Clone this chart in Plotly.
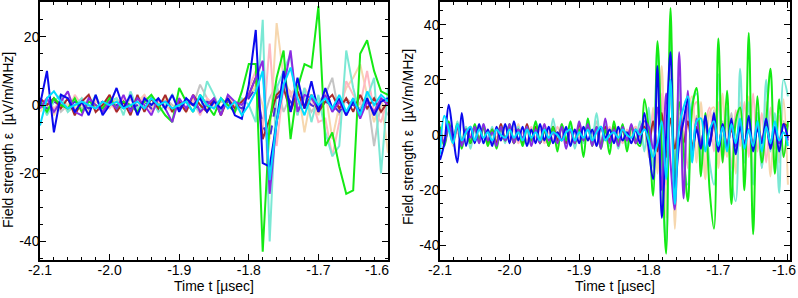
import numpy as np
import plotly.graph_objects as go

# ---------------- data ----------------
# Left panel: time samples every 0.01 usec
t_left = [round(-2.10 + 0.01 * i, 4) for i in range(51)]
# Right panel: time samples every 0.00625 usec
t_right = [round(-2.10 + 0.00625 * j, 5) for j in range(81)]

L_green = [1, -2, 2, 0, -1, 2, -2, 1, 0, -1,
           2, -1, 1, 0, -2, 1, 3, 0, -3, -5,
           5, 1, -2, 3, 0, -3, 2, 0, -2, 4,
           12, 12, -43, -5, 8, 16, -10, 5, 12, 11,
           29, -12, -8, -18, -26, -25, 15, 19, 10, 4, 3]
L_blue = [0, 10, -8, 3, 2, -2, 1, -3, 3, -3,
          0, 5, -1, 3, -3, 2, 0, 2, -1, 3,
          -2, 2, 0, 2, -2, 1, -1, 2, -3, -4,
          6, 22, -17, -18, -5, 10, -2, 8, -1, 7,
          -2, 5, -1, 2, -3, 1, -2, 2, -3, 1, 2]
L_purple = [-1, 2, -2, 1, 4, -2, -3, 2, 0, -2,
            1, -1, 3, -2, 2, 0, -3, 2, -1, -5,
            2, -1, 3, -2, 0, 2, -3, 3, 1, 0,
            3, 8, 13, -26, -5, 5, 16, -2, 3, 2,
            -1, 3, -2, 1, -3, 2, -4, 1, -2, 2, 0]
L_brown = [2, 0, 2, -1, 2, -3, 1, 3, -2, 0,
           3, -2, 1, -3, 3, -2, 2, -1, 3, -2,
           1, -2, 3, 0, -2, 2, -3, 2, -1, 1,
           3, 8, -10, -4, 3, 5, -2, 4, -1, 3,
           -2, 1, 3, -1, 2, -2, 3, -1, 2, -2, 1]
L_cyan = [-6, 2, 4, 1, -1, 0, 1, 0, -1, 1,
          0, 1, -1, 0, 1, -1, 2, 0, 1, -1,
          0, 1, -2, 3, 0, -1, 2, -1, 1, -3,
          0, 4, 10, -22, -5, 6, 11, 2, -3, 3,
          0, 2, -1, 3, -2, 2, -3, 4, 0, 3, 1]
L_aqua = [2, -3, 1, 3, -2, 0, 2, -1, 3, -2,
          1, 2, -3, 4, -1, 1, 2, -2, 0, 3,
          -1, 2, 0, -2, 7, 3, -2, 1, -1, 2,
          0, -5, 25, -40, 5, 10, 15, -3, 5, -5,
          3, -8, -15, -12, 16, 5, -3, 2, 8, -20, 5]
L_pink = [0, 2, -1, 1, -2, 3, 0, -1, 2, -1,
          1, -2, 2, 0, -1, 3, -2, 1, 0, -2,
          2, -1, 1, -3, 2, 0, -1, 2, 0, -2,
          5, 10, -8, 18, -12, 6, 4, -3, 5, 2,
          -5, -4, -15, -5, 7, 3, 0, 10, -2, -5, 2]
L_wheat = [-2, 1, -3, 2, 0, -1, 2, -2, 1, 0,
           -1, 2, 0, -2, 1, 3, -1, 0, 2, -1,
           1, -2, 2, 0, -1, 1, -2, 3, 0, 1,
           2, 6, 0, -10, 24, 8, 3, 6, -8, 3,
           -3, 4, -10, 0, 5, 8, 12, 3, -5, 2, -14]
L_gray = [1, -1, 2, -2, 0, 1, -1, 2, 0, -2,
          1, 0, -1, 2, -2, 1, 0, -1, 2, 0,
          -1, 1, 0, 6, 2, -1, 1, 0, -2, 1,
          3, 5, -5, 2, 6, -2, 3, 0, 2, -2,
          1, 3, 8, -3, 2, 0, -1, 3, -12, 1, -3]
L_dash = [0, -1, 1, 0, -1, 1, 0, -1, 0, 1,
          -1, 0, 1, -1, 0, 1, -1, 0, 1, 0,
          -1, 1, 0, -1, 1, 0, -1, 1, 0, -1,
          2, 5, -6, -10, 2, 4, 1, -2, 2, 0,
          -1, 1, 0, -2, 1, 0, -1, 1, -2, 0, 1]

R_blue = [-9, -3, 11, 0, -10, 8, -4, 3, -3, 4,
          -3, 2, -4, 3, -2, 4, -3, 5, -2, 3,
          -4, 2, -3, 4, -2, 3, -3, 1, -2, 3,
          -4, 2, -3, 3, -2, 2, -4, 3, -1, 2,
          -3, 3, -2, 1, -3, 2, -3, 8, -5, -16,
          25, -30, 0, 30, -19, -3, 5, 13, -6, 2,
          -5, 7, -4, 8, -6, 4, -5, 6, -7, 3,
          -4, 7, -6, 2, -3, 6, -5, 3, -6, 4, -1]
R_green = [3, -4, 5, -2, 4, -5, 2, -3, 4, -2,
           3, -4, 2, -5, 3, -2, 4, -3, 2, -4,
           3, -2, 5, -3, 2, -4, 3, -6, 4, -2,
           5, -3, 2, -8, 6, -4, 3, -5, 2, -7,
           5, -3, 4, -6, 3, -2, -4, 13, 2, -22,
           34, -5, -43, 46, -20, 12, -5, -24, 10, 17,
           -15, 8, -20, -34, 35, -10, 16, -25, 5, 10,
           -20, 37, -36, 14, -10, 5, 24, -14, 13, -8, 5]
R_purple = [2, -3, 4, -2, 3, -4, 2, -1, 3, -3,
            4, -2, 1, -4, 3, -2, 4, -3, 2, -1,
            3, -4, 2, -3, 4, -2, 1, -3, 3, -5,
            2, -3, 5, -2, 4, -4, 3, -5, 6, -3,
            2, -4, 3, -2, 4, -3, 2, 5, 3, -5,
            10, -20, 15, -10, -27, 30, -23, 16, -8, 6,
            -4, 5, -3, 6, -6, 4, -5, 3, -4, 5,
            -3, 2, -5, 4, -2, 3, -5, 2, -3, 4, -2]
R_cyan = [-7, 7, 2, -3, 4, -2, 1, 3, -2, 2,
          -1, 1, -2, 2, 0, -1, 2, -1, 1, -2,
          2, -1, 1, -2, 2, -1, 1, 0, -2, 1,
          2, -2, 1, -1, 2, -2, 1, 3, -2, 0,
          1, -1, 2, 0, -1, 2, 0, 2, -2, -8,
          -3, 5, -16, 20, -25, 3, 10, 14, -10, 5,
          6, -6, 2, 5, -4, 3, -6, 4, -3, 6,
          -5, 2, -4, 5, -6, 3, -3, 5, -2, 1, -4]
R_aqua = [3, -4, 2, -3, 5, -2, 3, -5, 2, -3,
          4, -2, 3, -4, 2, -3, 4, -2, 3, -4,
          2, -3, 5, -2, 3, -4, 6, -2, 3, -3,
          4, -5, 2, -3, 6, -2, 8, -3, 4, -4,
          3, -5, 2, -4, 3, -2, 5, -6, 10, -12,
          32, -10, -40, 38, -15, 20, -10, -18, 12, 15,
          -12, 6, -10, -18, 22, -8, 10, -15, -24, 24,
          -10, 12, -18, 8, -12, 20, -6, 8, -21, 20, 14]
R_pink = [2, -1, 3, -2, 1, -3, 2, 0, -2, 3,
          -1, 2, -3, 1, -2, 3, -1, 2, -3, 1,
          -2, 3, -1, 2, -3, 1, -2, 3, -1, 2,
          -3, 2, -1, 3, -2, 1, -4, 2, -1, 3,
          -2, 1, -3, 2, -1, 3, -2, 4, -6, 8,
          -10, 15, -18, 20, -15, 10, 3, -12, 8, 12,
          -8, 4, 10, -6, 12, -10, 6, -12, 9, -4,
          12, -8, 15, -6, 8, -10, 10, -5, 7, -8, 4]
R_wheat = [4, -2, 3, -4, 2, -1, 3, -3, 2, -2,
           3, -4, 2, -1, 3, -2, 1, -3, 4, -2,
           1, -3, 2, -2, 4, -1, 2, -4, 3, -2,
           2, -3, 4, -1, 3, -4, 2, -2, 3, -3,
           2, -2, 3, -4, 1, 3, -3, 6, -8, 10,
           -14, 25, -30, 40, -34, 20, -18, 8, 14, -10,
           12, -16, 8, 10, -12, 15, -8, 6, -14, 12,
           -6, 14, -16, 8, -4, 12, -15, 6, -10, 13, -18]
R_gray = [1, -2, 3, -1, 2, -3, 1, -2, 3, -1,
          2, -3, 1, -2, 4, -1, 2, -3, 1, -2,
          3, -1, 2, -3, 1, -2, 3, -1, 4, -2,
          1, -3, 2, -2, 3, -1, 5, -2, 1, -3,
          2, -1, 3, -2, 1, -3, 2, 4, -3, 6,
          -8, 12, -10, 15, -12, 8, -6, 10, -5, 7,
          -8, 6, -4, 9, -10, 5, -3, 8, -6, 4,
          -10, 6, -3, 8, -12, 5, -4, 7, -9, 5, -3]
R_brown = [2, -3, 3, -2, 3, -3, 2, -3, 3, -2,
           3, -3, 2, -3, 4, -2, 3, -3, 2, -3,
           4, -2, 3, -3, 2, -4, 3, -2, 3, -3,
           2, -3, 4, -2, 3, -3, 2, -4, 3, -2,
           3, -3, 2, -2, 3, -3, 1, 3, -4, 5,
           -6, 8, -8, 6, -5, 4, -3, 5, -4, 3,
           -4, 5, -3, 4, -5, 3, -4, 2, -3, 4,
           -3, 2, -4, 3, -2, 4, -3, 2, -3, 4, 3]

x_tickvals = [-2.1, -2.0, -1.9, -1.8, -1.7, -1.6]
x_ticktext = ["-2.1", "-2.0", "-1.9", "-1.8", "-1.7", "-1.6"]
y_tickvals = [-40, -20, 0, 20, 40]
y_ticktext = ["-40", "-20", "0", "20", "40"]
x_title = "Time t [µsec]"
y_title = "Field strength ε  [µV/m/MHz]"

# ---------------- styling ----------------
COL = {
    "gray": "#c4c4c4", "wheat": "#f6d7ae", "pink": "#ffb8c2", "aqua": "#7ae8d4",
    "dash": "#4b2bd6", "brown": "#a82a2a", "green": "#14ea14", "purple": "#8a2be2",
    "blue": "#0a0aee", "cyan": "#00dcff",
}

fig = go.Figure()

left_series = [("gray", L_gray), ("wheat", L_wheat), ("pink", L_pink), ("aqua", L_aqua),
               ("dash", L_dash), ("brown", L_brown), ("green", L_green),
               ("purple", L_purple), ("blue", L_blue), ("cyan", L_cyan)]
right_series = [("gray", R_gray), ("wheat", R_wheat), ("pink", R_pink), ("aqua", R_aqua),
                ("brown", R_brown), ("green", R_green), ("purple", R_purple),
                ("blue", R_blue), ("cyan", R_cyan)]

for name, ys in left_series:
    fig.add_trace(go.Scatter(
        x=t_left, y=ys, mode="lines", xaxis="x", yaxis="y",
        line=dict(color=COL[name], width=2, dash="dash" if name == "dash" else "solid"),
        showlegend=False, hoverinfo="skip"))

for name, ys in right_series:
    fig.add_trace(go.Scatter(
        x=t_right, y=ys, mode="lines", xaxis="x2", yaxis="y2",
        line=dict(color=COL[name], width=2, shape="spline", smoothing=1.0),
        showlegend=False, hoverinfo="skip"))

W, H = 798, 298
top_px, bot_px = 2, 260
ydom = [1 - bot_px / H, 1 - top_px / H]

tickfont = dict(family="Liberation Sans, Arial, sans-serif", size=14, color="black")

# last label ("-1.6") is drawn separately, nudged inward as in the reference
edge_label = x_ticktext[-1]
x_ticktext_axis = x_ticktext[:-1] + [""]

def xaxis_cfg(x0, x1, xmax):
    return dict(domain=[x0 / W, x1 / W], range=[-2.1, xmax], tickvals=x_tickvals,
                ticktext=x_ticktext_axis, ticks="inside", ticklen=6, tickwidth=1,
                tickcolor="black", showline=True, linecolor="black", linewidth=1.5,
                mirror="allticks", showgrid=False, zeroline=False, tickfont=tickfont,
                ticklabelstandoff=-4, ticklabeloverflow="allow",
                minor=dict(ticks="inside", ticklen=3, tickwidth=1, tickcolor="black",
                           dtick=0.02, tick0=-2.1, showgrid=False),
                automargin=False, fixedrange=True)

def yaxis_cfg(rng, anchor):
    return dict(domain=ydom, range=rng, tickvals=y_tickvals, ticktext=y_ticktext,
                ticks="inside", ticklen=6, tickwidth=1, tickcolor="black",
                showline=True, linecolor="black", linewidth=1.5, mirror="allticks",
                showgrid=False, zeroline=False, tickfont=tickfont, anchor=anchor,
                ticklabelstandoff=-4,
                minor=dict(ticks="inside", ticklen=3, tickwidth=1, tickcolor="black",
                           dtick=5, tick0=0, showgrid=False),
                automargin=False, fixedrange=True)

xa1 = xaxis_cfg(40, 388, -1.6); xa1["anchor"] = "y"
xa2 = xaxis_cfg(440, 790, -1.597); xa2["anchor"] = "y2"

fig.update_layout(
    width=W, height=H, margin=dict(l=0, r=0, t=0, b=0),
    paper_bgcolor="white", plot_bgcolor="white",
    xaxis=xa1, yaxis=yaxis_cfg([-45.4, 30.2], "x"),
    xaxis2=xa2, yaxis2=yaxis_cfg([-45.3, 48.2], "x2"),
    font=dict(family="Liberation Sans, Arial, sans-serif", size=14, color="black"),
    annotations=[
        dict(text=x_title, x=214 / W, y=1 - 286 / H, xref="paper", yref="paper",
             showarrow=False, xanchor="center", yanchor="middle", font=dict(size=14)),
        dict(text=x_title, x=615 / W, y=1 - 286 / H, xref="paper", yref="paper",
             showarrow=False, xanchor="center", yanchor="middle", font=dict(size=14)),
        dict(text=y_title, x=8 / W, y=1 - 140 / H, xref="paper", yref="paper",
             textangle=-90, showarrow=False, xanchor="center", yanchor="middle",
             font=dict(size=14)),
        dict(text=y_title, x=408 / W, y=1 - 137 / H, xref="paper", yref="paper",
             textangle=-90, showarrow=False, xanchor="center", yanchor="middle",
             font=dict(size=14)),
        dict(text=edge_label, x=377 / W, y=1 - 270 / H, xref="paper", yref="paper",
             showarrow=False, xanchor="center", yanchor="middle", font=tickfont),
        dict(text=edge_label, x=797 / W, y=1 - 270 / H, xref="paper", yref="paper",
             showarrow=False, xanchor="right", yanchor="middle", font=tickfont,
             borderpad=0),
    ],
)

fig.write_html("out.html", config={"displayModeBar": False},
               post_script="document.body.style.margin='0';document.body.style.overflow='hidden';")
